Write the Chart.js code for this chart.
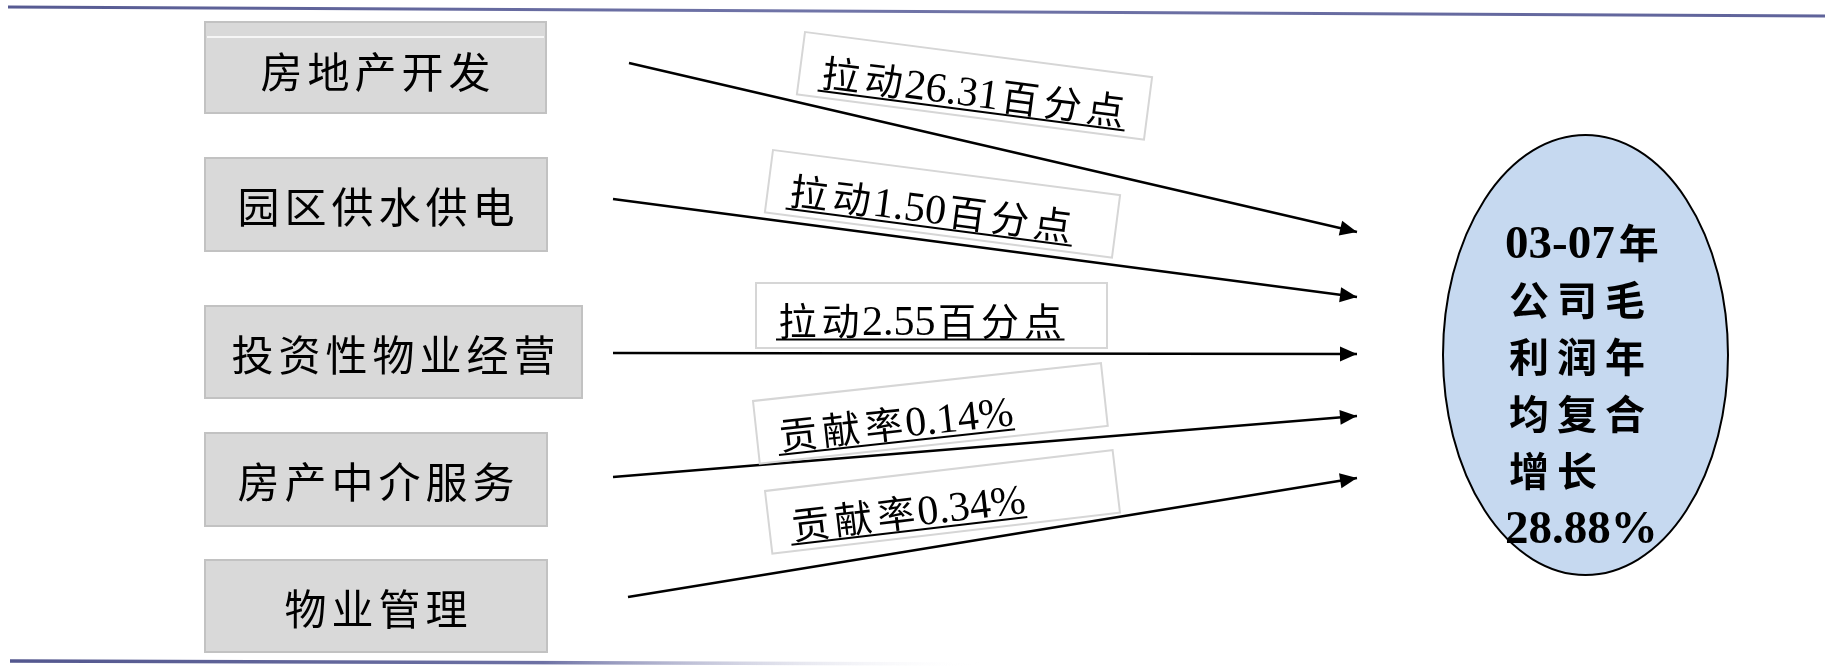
<!DOCTYPE html>
<html>
<head>
<meta charset="utf-8">
<script src="https://cdn.jsdelivr.net/npm/chart.js@4.4.1/dist/chart.umd.min.js"></script>
<style>
  html, body { margin: 0; padding: 0; background: #fff; overflow: hidden; }
  #wrap { width: 1825px; height: 666px; }
</style>
</head>
<body>
<div id="wrap"><canvas id="c" width="1825" height="666"></canvas></div>
<script>
// Business segments and their contribution to 2003-07 gross-profit CAGR
const segments = ['房地产开发', '园区供水供电', '投资性物业经营', '房产中介服务', '物业管理'];
const contributions = [26.31, 1.50, 2.55, 0.14, 0.34];
const labelKinds = ['pull', 'pull', 'pull', 'share', 'share'];
const totalGrowth = 28.88;
const summaryHead = ['03-07年', '公司毛', '利润年', '均复合', '增长'];

const W = 1825, H = 666;

// Diagram geometry (canvas units)
const layout = {
  boxes: [
    { x: 205, y: 22,  w: 341, h: 91 },
    { x: 205, y: 158, w: 342, h: 93 },
    { x: 205, y: 306, w: 377, h: 92 },
    { x: 205, y: 433, w: 342, h: 93 },
    { x: 205, y: 560, w: 342, h: 92 }
  ],
  arrowFrom: [[629, 63], [613, 199], [613, 353], [613, 477], [628, 597]],
  arrowTipX: 1357,
  arrowTipY: [232, 297, 354, 416, 478],
  tags: [
    { x: 805, y: 32,  w: 350, h: 63, deg: 7.4 },
    { x: 773, y: 150, w: 350, h: 63, deg: 7.4 },
    { x: 756, y: 283, w: 351, h: 65, deg: 0 },
    { x: 753, y: 401, w: 350, h: 63, deg: -6.2 },
    { x: 765, y: 491, w: 350, h: 63, deg: -6.7 }
  ],
  ellipse: { cx: 1585.5, cy: 355, rx: 142.5, ry: 220 },
  summaryX: 1505, summaryY0: 258, summaryStep: 57
};

function tagText(i) {
  const v = contributions[i].toFixed(2);
  return labelKinds[i] === 'pull' ? '拉动' + v + '百分点' : '贡献率' + v + '%';
}
const summaryLines = summaryHead.concat([totalGrowth.toFixed(2) + '%']);

const isCJK = ch => /[\u3000-\u9fff\uff00-\uffef]/.test(ch);

// Draws mixed Latin/CJK text: Latin runs in a serif face, CJK glyphs centred in fixed cells
function drawMixed(ctx, text, x, y, o, dry) {
  let cx = x, run = '';
  const flush = () => {
    if (!run) return;
    ctx.font = o.latin;
    if (!dry) ctx.fillText(run, cx, y);
    cx += ctx.measureText(run).width;
    run = '';
  };
  for (const ch of text) {
    if (isCJK(ch)) {
      flush();
      ctx.font = o.cjk;
      const gw = ctx.measureText(ch).width;
      if (!dry) ctx.fillText(ch, cx + (o.adv - gw) / 2, y + (o.dy || 0));
      cx += o.adv;
    } else run += ch;
  }
  flush();
  return cx - x;
}

const boxFont = { latin: '42px "Liberation Serif"', cjk: '42px "Noto Sans CJK SC"', adv: 47 };
const tagFont = { latin: '42px "Liberation Serif"', cjk: '38px "Noto Sans CJK SC"', adv: 43 };
const sumFont = { latin: 'bold 47px "Liberation Serif"', cjk: 'bold 40px "Noto Sans CJK SC"', adv: 48 };

const diagramPlugin = {
  id: 'diagram',
  beforeDatasetsDraw(chart) {
    const ctx = chart.ctx, sx = chart.scales.x, sy = chart.scales.y;
    const X = v => sx.getPixelForValue(v), Y = v => sy.getPixelForValue(v);
    ctx.save();

    // header rule
    let g = ctx.createLinearGradient(X(8), 0, X(W), 0);
    g.addColorStop(0, '#565a92');
    g.addColorStop(0.45, '#7175a8');
    g.addColorStop(1, '#5f639a');
    ctx.strokeStyle = g; ctx.lineWidth = 3;
    ctx.beginPath(); ctx.moveTo(X(8), Y(7)); ctx.lineTo(X(W), Y(16)); ctx.stroke();

    // footer rule, fading out
    g = ctx.createLinearGradient(X(10), 0, X(980), 0);
    g.addColorStop(0, '#53578e');
    g.addColorStop(0.55, '#6d71a4');
    g.addColorStop(1, 'rgba(255,255,255,0)');
    ctx.strokeStyle = g; ctx.lineWidth = 3.5;
    ctx.beginPath(); ctx.moveTo(X(10), Y(661)); ctx.lineTo(X(980), Y(664)); ctx.stroke();

    // segment boxes
    layout.boxes.forEach((b, i) => {
      const x0 = X(b.x), y0 = Y(b.y), w = X(b.x + b.w) - x0, h = Y(b.y + b.h) - y0;
      ctx.fillStyle = '#d9d9d9';
      ctx.fillRect(x0, y0, w, h);
      ctx.strokeStyle = '#c2c2c2'; ctx.lineWidth = 2;
      ctx.strokeRect(x0, y0, w, h);
      if (i === 0) {
        ctx.strokeStyle = '#ffffff'; ctx.lineWidth = 1.5;
        ctx.beginPath(); ctx.moveTo(x0 + 2, y0 + 15); ctx.lineTo(x0 + w - 2, y0 + 15); ctx.stroke();
      }
      ctx.fillStyle = '#000'; ctx.textBaseline = 'middle'; ctx.textAlign = 'left';
      const tw = drawMixed(ctx, segments[i], 0, 0, boxFont, true);
      drawMixed(ctx, segments[i], x0 + (w - tw) / 2, y0 + h / 2 + (i === 0 ? 5 : 3), boxFont);
    });

    // summary ellipse
    const e = layout.ellipse;
    ctx.beginPath();
    ctx.ellipse(X(e.cx), Y(e.cy), X(e.cx + e.rx) - X(e.cx), Y(e.cy + e.ry) - Y(e.cy), 0, 0, Math.PI * 2);
    ctx.fillStyle = '#c6d9f0'; ctx.fill();
    ctx.strokeStyle = '#000'; ctx.lineWidth = 2; ctx.stroke();
    ctx.restore();
  },
  afterDatasetsDraw(chart) {
    const ctx = chart.ctx, sx = chart.scales.x, sy = chart.scales.y;
    const X = v => sx.getPixelForValue(v), Y = v => sy.getPixelForValue(v);
    ctx.save();

    // arrowheads at the end of each line
    chart.data.datasets.forEach((ds, i) => {
      const pts = chart.getDatasetMeta(i).data;
      const a = pts[pts.length - 2], b = pts[pts.length - 1];
      const ang = Math.atan2(b.y - a.y, b.x - a.x);
      const L = 17, hw = 7.5;
      ctx.save();
      ctx.translate(b.x, b.y); ctx.rotate(ang);
      ctx.fillStyle = '#000';
      ctx.beginPath(); ctx.moveTo(0, 0); ctx.lineTo(-L, -hw); ctx.lineTo(-L, hw); ctx.closePath(); ctx.fill();
      ctx.restore();
    });

    // contribution tags
    layout.tags.forEach((t, i) => {
      ctx.save();
      ctx.translate(X(t.x), Y(t.y));
      ctx.rotate(t.deg * Math.PI / 180);
      ctx.strokeStyle = '#d6d6d6'; ctx.lineWidth = 2;
      ctx.strokeRect(0, 0, t.w, t.h);
      ctx.fillStyle = '#000'; ctx.textBaseline = 'alphabetic'; ctx.textAlign = 'left';
      const tw = drawMixed(ctx, tagText(i), 20, 52, tagFont);
      ctx.strokeStyle = '#000'; ctx.lineWidth = 2;
      ctx.beginPath(); ctx.moveTo(20, 56.5); ctx.lineTo(20 + tw, 56.5); ctx.stroke();
      ctx.restore();
    });

    // summary text inside ellipse
    ctx.fillStyle = '#000'; ctx.textBaseline = 'alphabetic'; ctx.textAlign = 'left';
    summaryLines.forEach((line, k) => {
      drawMixed(ctx, line, X(layout.summaryX), Y(layout.summaryY0 + k * layout.summaryStep), sumFont);
    });
    ctx.restore();
  }
};

const datasets = segments.map((name, i) => ({
  label: name,
  type: 'line',
  showLine: true,
  data: [
    { x: layout.arrowFrom[i][0], y: layout.arrowFrom[i][1] },
    { x: layout.arrowTipX, y: layout.arrowTipY[i] }
  ],
  borderColor: '#000',
  borderWidth: 2.4,
  pointRadius: 0,
  fill: false,
  tension: 0,
  clip: false
}));

new Chart(document.getElementById('c').getContext('2d'), {
  type: 'scatter',
  data: { datasets },
  options: {
    responsive: false,
    animation: false,
    events: [],
    layout: { padding: 0 },
    plugins: { legend: { display: false }, tooltip: { enabled: false } },
    scales: {
      x: { type: 'linear', min: 0, max: W, display: false },
      y: { type: 'linear', min: 0, max: H, reverse: true, display: false }
    }
  },
  plugins: [diagramPlugin]
});
</script>
</body>
</html>
